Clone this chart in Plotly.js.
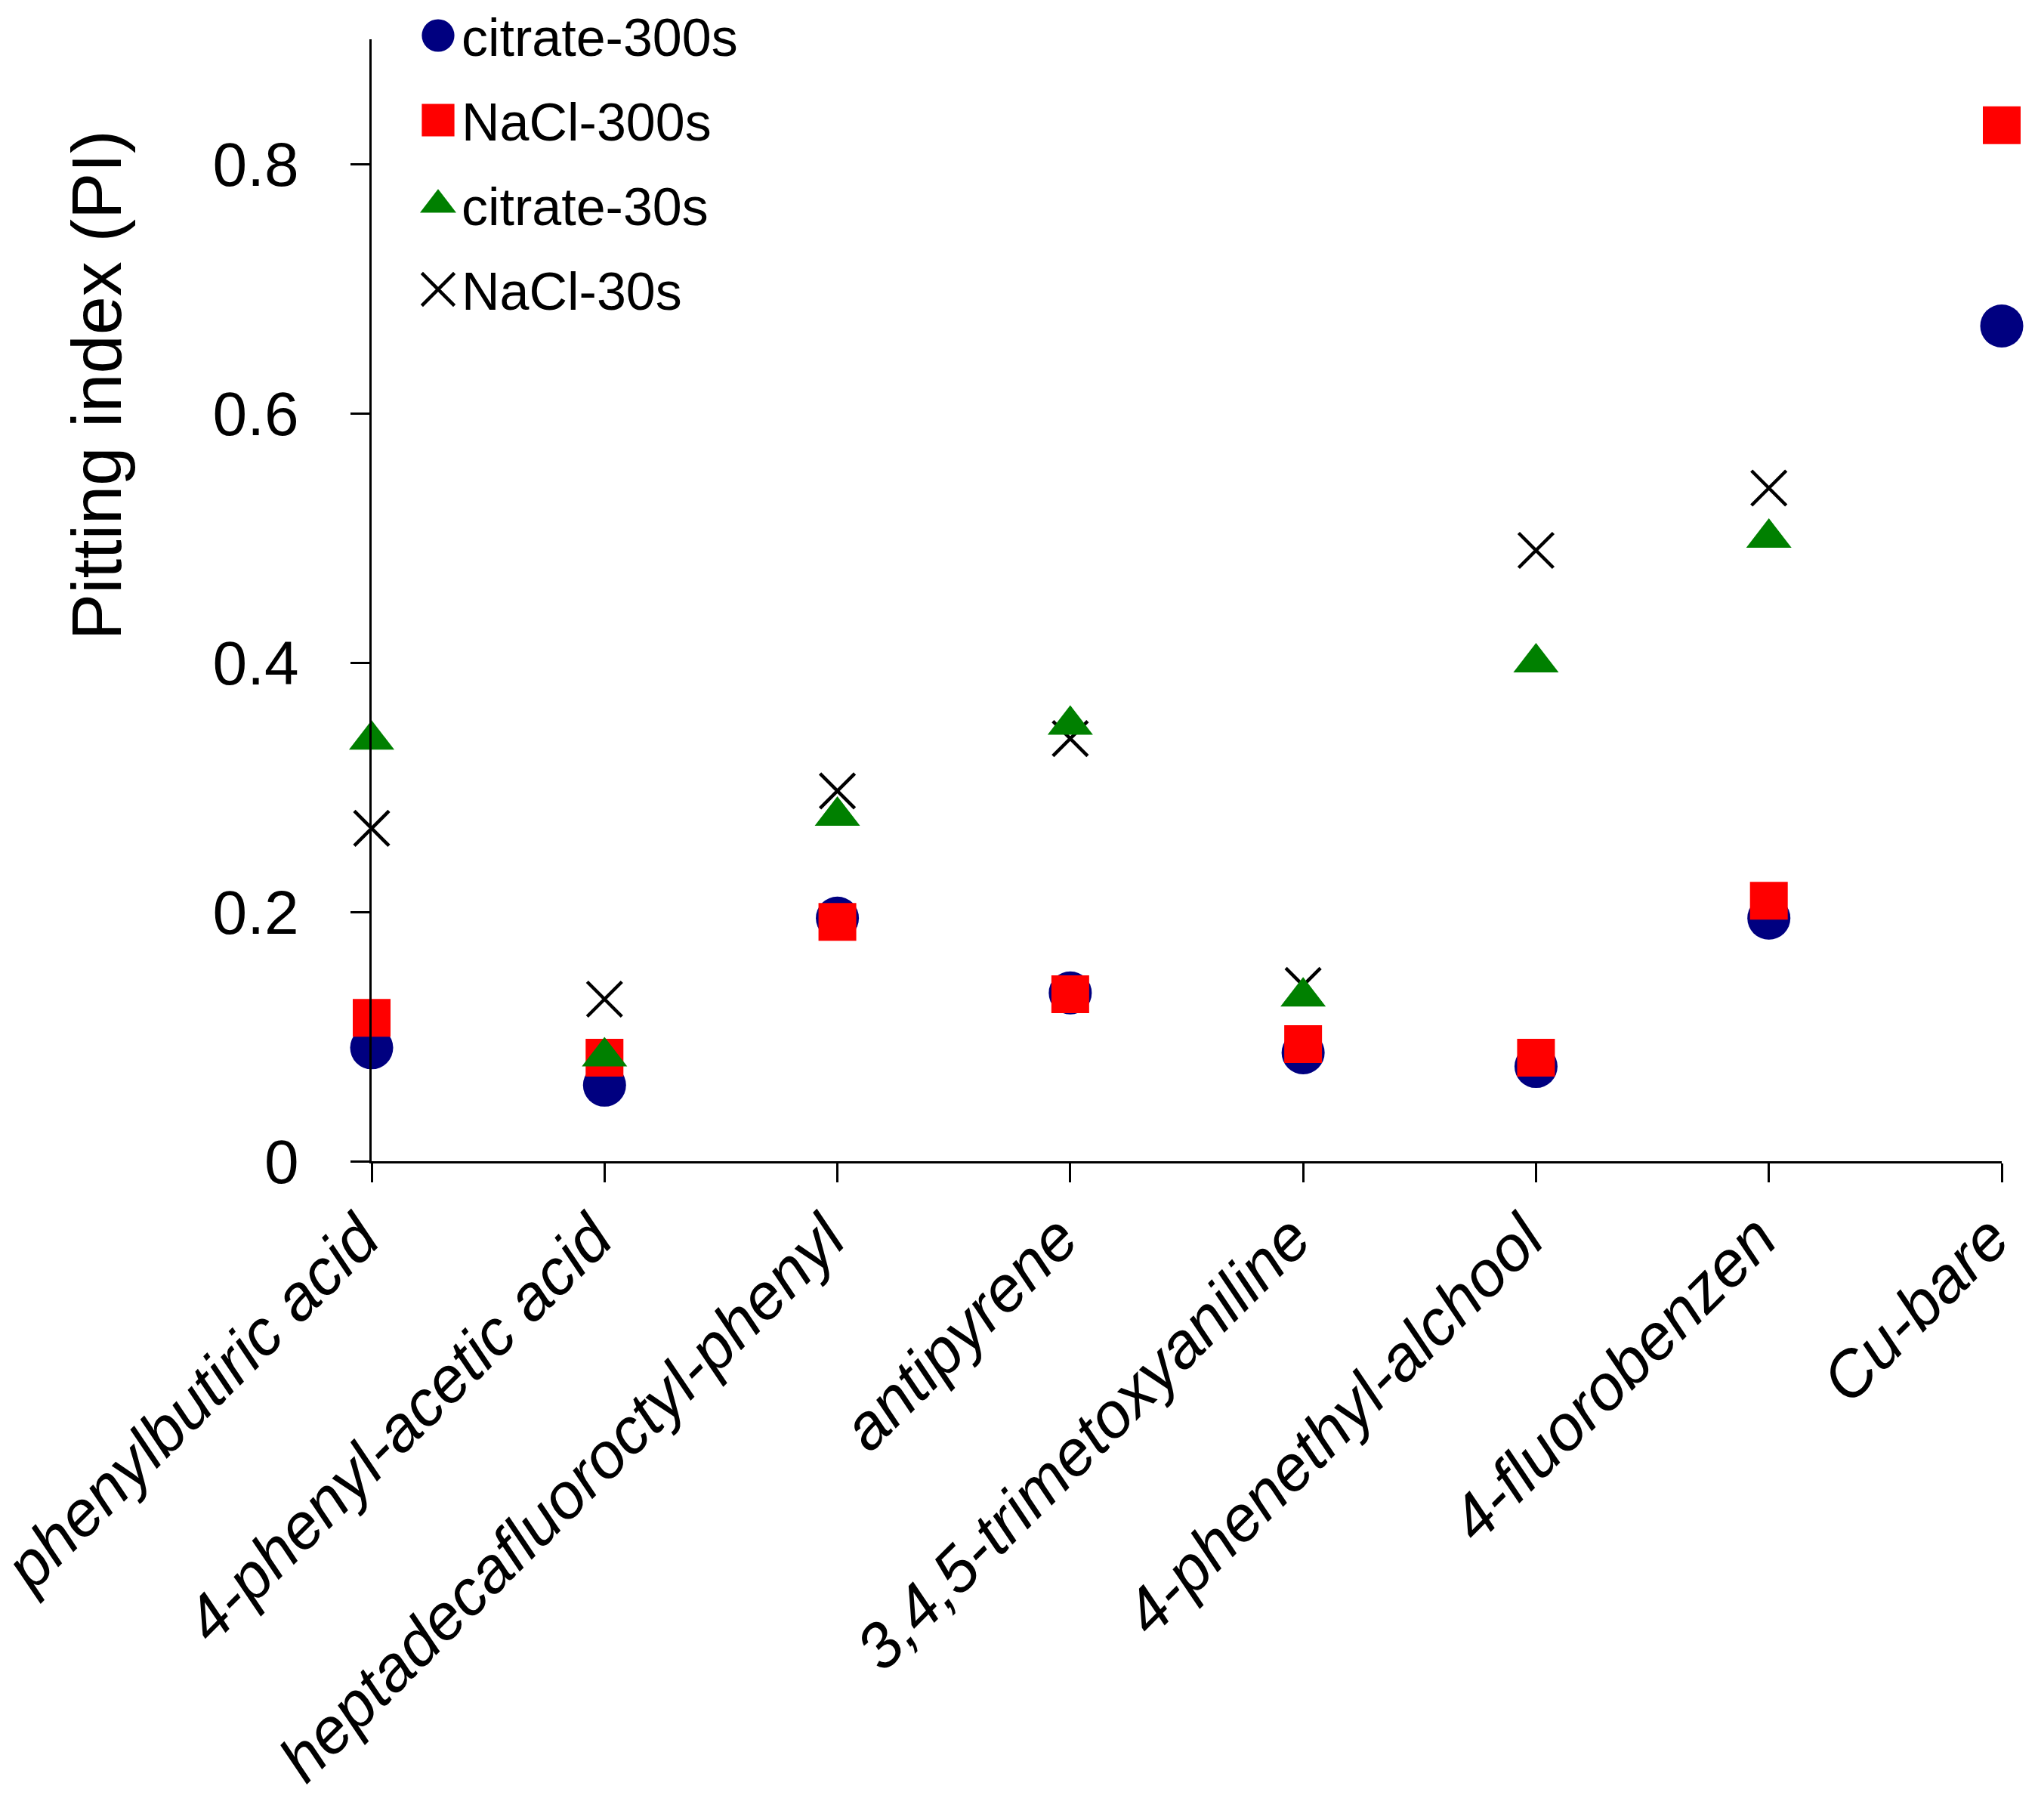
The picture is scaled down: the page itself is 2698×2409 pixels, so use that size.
<!DOCTYPE html>
<html>
<head>
<meta charset="utf-8">
<script src="https://cdn.plot.ly/plotly-3.0.1.min.js"></script>
<style>
  html, body { margin: 0; padding: 0; background: #fff; }
  #chart { width: 2698px; height: 2409px; }
</style>
</head>
<body>
<div id="chart"></div>
<script>
const categories = ['phenylbutiric acid', '4-phenyl-acetic acid', 'heptadecafluoroctyl-phenyl', 'antipyrene',
  '3,4,5-trimetoxyaniline', '4-phenethyl-alchool', '4-fluorobenzen', 'Cu-bare'];
const citrate300 = [0.091, 0.061, 0.195, 0.135, 0.087, 0.076, 0.195, 0.670];
const nacl300    = [0.115, 0.083, 0.192, 0.134, 0.094, 0.083, 0.209, 0.831];
const citrate30  = [0.338, 0.084, 0.277, 0.350, 0.132, 0.400, 0.500, null];
const nacl30     = [0.267, 0.130, 0.297, 0.339, 0.141, 0.490, 0.540, null];
const yTicks = [0, 0.2, 0.4, 0.6, 0.8];

const FONT = "'Liberation Sans', Arial, sans-serif";

// legend symbols are capped at 16px by plotly, so they get scaled up after drawing
const LEGEND_SCALE = {'citrate-300s': 2.7, 'NaCl-300s': 2.7, 'citrate-30s': 2.6, 'NaCl-30s': 2.7};
const LEGEND_ITEMWIDTH = 60;

const pts = (name, y, symbol, color, size, rank, extra) => ({
  type: 'scatter', mode: 'markers', name, x: categories, y,
  legendgroup: name, legendrank: rank, cliponaxis: false,
  marker: {symbol, color, size, ...extra},
});

const traces = [
  pts('citrate-300s', citrate300, 'circle', '#000080', 57, 1),
  pts('NaCl-300s', nacl300, 'square', '#ff0000', 50, 2),
  pts('NaCl-30s', nacl30, 'x-thin', '#000000', 46, 4, {line: {color: '#000000', width: 4.5}}),
  pts('citrate-30s', citrate30, 'triangle-up', '#008000', 52, 3),
];

const axisBase = {
  showline: true, linecolor: '#000', linewidth: 3, mirror: false,
  ticks: 'outside', ticklen: 25, tickwidth: 3, tickcolor: '#000',
  showgrid: false, zeroline: false, automargin: false, fixedrange: true,
};

const layout = {
  width: 2698, height: 2409,
  margin: {l: 492, r: 48, t: 52, b: 872, autoexpand: false},
  paper_bgcolor: '#fff', plot_bgcolor: '#fff',
  font: {family: FONT, color: '#000'},
  showlegend: true,
  legend: {
    x: 0.0227, xanchor: 'left', y: 1.0384, yanchor: 'top',
    font: {family: FONT, size: 70, color: '#000'},
    bgcolor: 'rgba(0,0,0,0)', borderwidth: 0, itemwidth: LEGEND_ITEMWIDTH,
    traceorder: 'grouped', tracegroupgap: 18, itemclick: false, itemdoubleclick: false,
  },
  xaxis: {
    ...axisBase, type: 'category', range: [0, 7],
    tickangle: -45, ticklabelshift: -15, ticklabelstandoff: -10,
    tickfont: {family: FONT, size: 85, style: 'italic', color: '#000'},
  },
  yaxis: {
    ...axisBase, range: [0, 0.9], tickvals: yTicks, ticktext: yTicks.map(String),
    ticklabelstandoff: 52,
    tickfont: {family: FONT, size: 82, color: '#000'},
  },
  annotations: [{
    text: 'Pitting index (PI)', xref: 'paper', yref: 'paper',
    x: -0.1687, y: 0.692, xanchor: 'center', yanchor: 'middle',
    textangle: -90, showarrow: false, font: {family: FONT, size: 92, color: '#000'},
  }],
};

Plotly.newPlot('chart', traces, layout, {staticPlot: true, displayModeBar: false}).then(gd => {
  gd.querySelectorAll('.legend g.traces').forEach(g => {
    const name = g.__data__[0].trace.name;
    const k = LEGEND_SCALE[name];
    const p = g.querySelector('path.scatterpts');
    if (!p || !k) return;
    p.setAttribute('transform', `translate(${LEGEND_ITEMWIDTH - 21},0) scale(${k})`);
    if (name === 'NaCl-30s') p.style.strokeWidth = (4.5 / k) + 'px';
  });
});
</script>
</body>
</html>
